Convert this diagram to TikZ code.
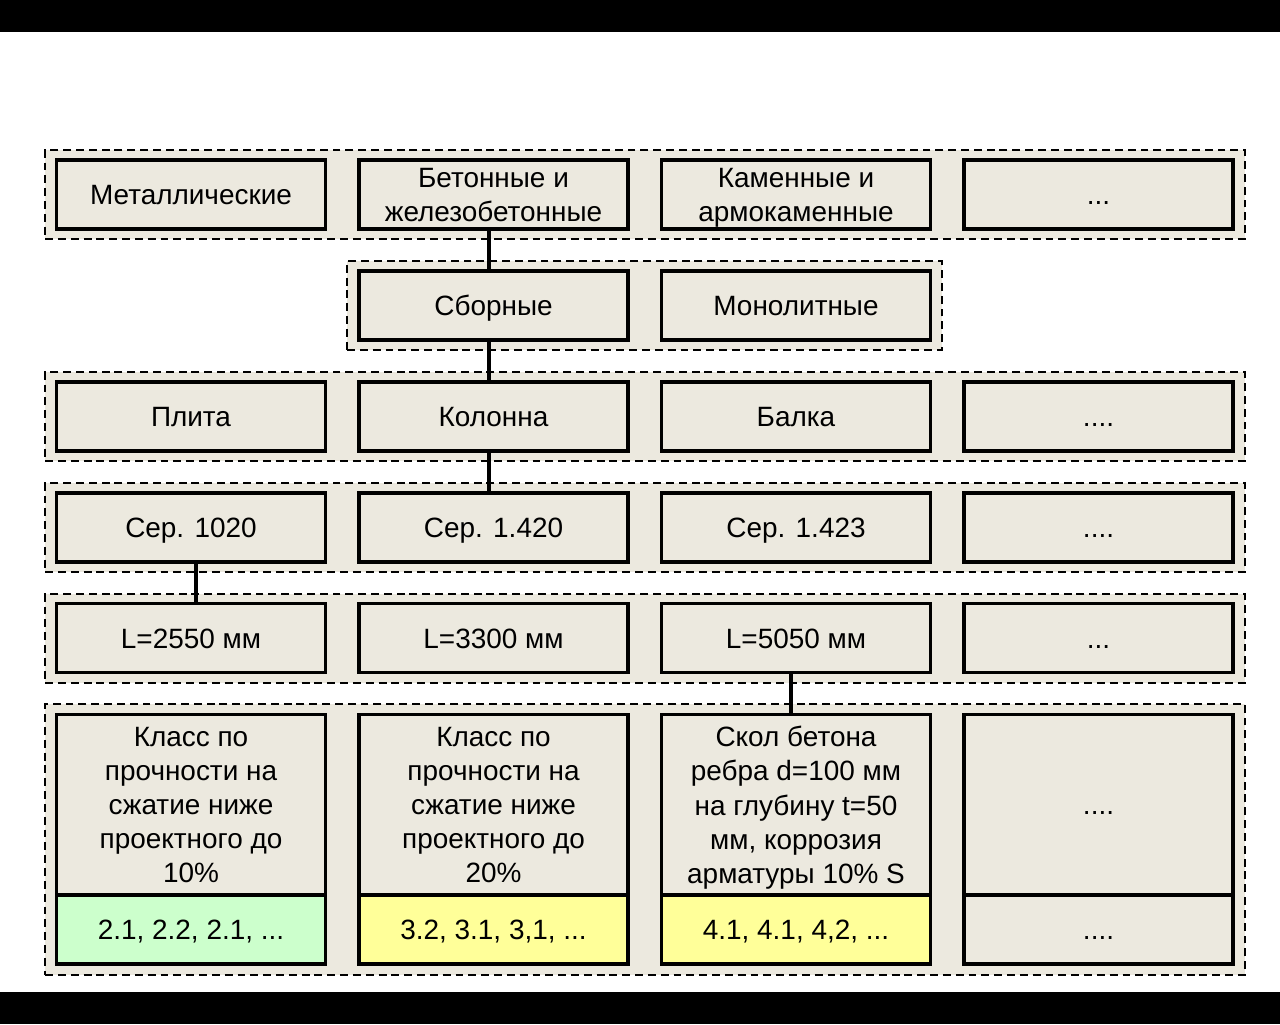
\documentclass[tikz,border=0pt]{standalone}
\usepackage{fontspec}
\setmainfont{Liberation Sans}
\definecolor{paper}{HTML}{ECE9DF}
\definecolor{palegreen}{HTML}{CCFFCC}
\definecolor{paleyellow}{HTML}{FFFF99}
\tikzset{block/.style = {draw, fill=paper, line width=2pt, rectangle, inner sep=0pt, align=center, text depth=0pt,
                         minimum width=5.38cm, minimum height=1.38cm, font=\fontsize{15.9}{19.4}\selectfont},
         oneline/.style = {block, text height=11.4pt},
         tallblock/.style = {block, minimum height=3.61cm},
         lowblock/.style = {oneline, minimum height=1.37cm},
         group/.style = {draw, fill=paper, line width=0.85pt, dash pattern=on 4.5pt off 2.8pt, rectangle, inner sep=0pt},
         link/.style = {line width=1.9pt}}
\begin{document}
\begin{tikzpicture}[x=0.02cm,y=-0.02cm]
        \fill[black](0,0)rectangle(1280,1024);
        \fill[white](0,32)rectangle(1280,992);
        \useasboundingbox(0,0)rectangle(1280,1024);

        % dashed groups
        \node[group,minimum width=24cm,minimum height=1.78cm](g1) at (645,194.5){};
        \node[group,minimum width=11.9cm,minimum height=1.78cm](g2) at (644.5,305.5){};
        \node[group,minimum width=24cm,minimum height=1.78cm](g3) at (645,416.5){};
        \node[group,minimum width=24cm,minimum height=1.78cm](g4) at (645,527.5){};
        \node[group,minimum width=24cm,minimum height=1.78cm](g5) at (645,638.5){};
        \node[group,minimum width=24cm,minimum height=5.42cm](g6) at (645,839.5){};

        % row 1
        \node[oneline](metal) at (191,194.5){Металлические};
        \node[block](beton) at (493.5,194.5){Бетонные и\\железобетонные};
        \node[block](kamen) at (796,194.5){Каменные и\\армокаменные};
        \node[oneline](etc1) at (1098.5,194.5){...};

        % row 2
        \node[oneline](sborn) at (493.5,305.5){Сборные};
        \node[oneline](monol) at (796,305.5){Монолитные};

        % row 3
        \node[oneline](plita) at (191,416.5){Плита};
        \node[oneline](kolon) at (493.5,416.5){Колонна};
        \node[oneline](balka) at (796,416.5){Балка};
        \node[oneline](etc3) at (1098.5,416.5){....};

        % row 4
        \node[oneline](ser1) at (191,527.5){Сер. 1020};
        \node[oneline](ser2) at (493.5,527.5){Сер. 1.420};
        \node[oneline](ser3) at (796,527.5){Сер. 1.423};
        \node[oneline](etc4) at (1098.5,527.5){....};

        % row 5
        \node[oneline](len1) at (191,638){L=2550 мм};
        \node[oneline](len2) at (493.5,638){L=3300 мм};
        \node[oneline](len3) at (796,638){L=5050 мм};
        \node[oneline](etc5) at (1098.5,638){...};

        % row 6
        \node[tallblock](def1) at (191,804.75){Класс по\\прочности на\\сжатие ниже\\проектного до\\10\%};
        \node[tallblock](def2) at (493.5,804.75){Класс по\\прочности на\\сжатие ниже\\проектного до\\20\%};
        \node[tallblock](def3) at (796,804.75){Скол бетона\\ребра d=100 мм\\на глубину t=50\\мм, коррозия\\арматуры 10\% S};
        \node[tallblock,text height=11.4pt](etc6) at (1098.5,804.75){....};
        \node[lowblock,fill=palegreen](cat1) at (191,929.5){2.1, 2.2, 2.1, ...};
        \node[lowblock,fill=paleyellow](cat2) at (493.5,929.5){3.2, 3.1, 3,1, ...};
        \node[lowblock,fill=paleyellow](cat3) at (796,929.5){4.1, 4.1, 4,2, ...};
        \node[lowblock](etc7) at (1098.5,929.5){....};

        % links
        \draw[link]([xshift=-0.09cm]beton.south)--([xshift=-0.09cm]sborn.north);
        \draw[link]([xshift=-0.09cm]sborn.south)--([xshift=-0.09cm]kolon.north);
        \draw[link]([xshift=-0.09cm]kolon.south)--([xshift=-0.09cm]ser2.north);
        \draw[link]([xshift=0.1cm]ser1.south)--([xshift=0.1cm]len1.north);
        \draw[link]([xshift=-0.1cm]len3.south)--([xshift=-0.1cm]def3.north);
\end{tikzpicture}
\end{document}
